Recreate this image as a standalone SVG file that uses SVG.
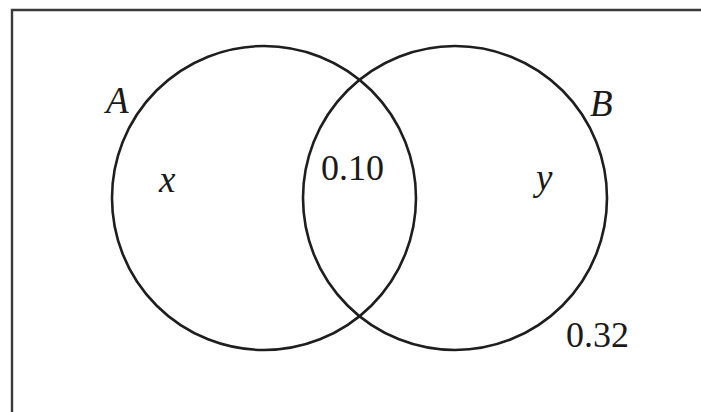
<svg xmlns="http://www.w3.org/2000/svg" width="701" height="412" viewBox="0 0 701 412">
<style>
.frame{fill:none;stroke:#3a3a3a;stroke-width:2.4}
.set{fill:none;stroke:#1e1e1e;stroke-width:2.6}
.num{font-family:"Liberation Serif","Times New Roman",serif;font-size:36px;fill:#1a1a1a}
.var{font-family:"Liberation Serif","Times New Roman",serif;font-size:37px;font-style:italic;fill:#1a1a1a}
</style>
<rect fill="#ffffff" x="0" y="0" width="701" height="412"/>
<g id="universe">
<path class="frame" d="M12,414 V10 H703"/>
<text class="num" x="566" y="347">0.32</text>
</g>
<g id="setA">
<circle class="set" cx="264" cy="198" r="152"/>
<text class="var" x="106" y="113">A</text>
<text class="var" x="159" y="192">x</text>
</g>
<g id="setB">
<circle class="set" cx="455" cy="198" r="152"/>
<text class="var" x="590" y="116">B</text>
<text class="var" x="536" y="190">y</text>
</g>
<g id="intersection">
<text class="num" x="321" y="180">0.10</text>
</g>
<g id="connectors"></g>
</svg>
